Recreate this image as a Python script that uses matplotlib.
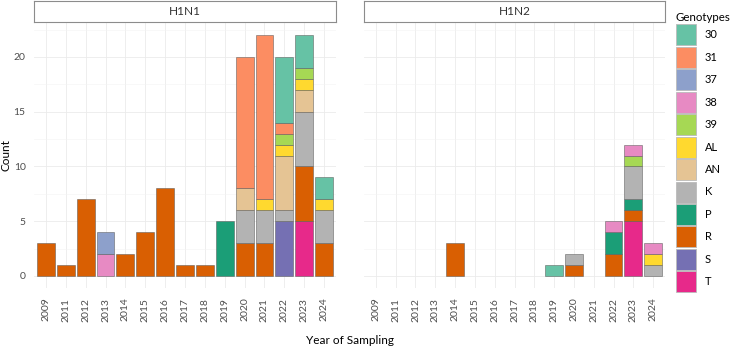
import matplotlib
matplotlib.use("Agg")
import matplotlib.pyplot as plt
from matplotlib.patches import Patch
import numpy as np

plt.rcParams['font.family'] = ['Lato', 'DejaVu Sans']

years = ['2009', '2011', '2012', '2013', '2014', '2015', '2016', '2017',
         '2018', '2019', '2020', '2021', '2022', '2023', '2024']
genotypes = ['30', '31', '37', '38', '39', 'AL', 'AN', 'K', 'P', 'R', 'S', 'T']
colors = ['#66C2A5', '#FC8D62', '#8DA0CB', '#E78AC3', '#A6D854', '#FFD92F',
          '#E5C494', '#B3B3B3', '#1B9E77', '#D95F02', '#7570B3', '#E7298A']

# counts per genotype, one value per year (order of `years`)
h1n1 = {
    '30': [0, 0, 0, 0, 0, 0, 0, 0, 0, 0, 0, 0, 6, 3, 2],
    '31': [0, 0, 0, 0, 0, 0, 0, 0, 0, 0, 12, 15, 1, 0, 0],
    '37': [0, 0, 0, 2, 0, 0, 0, 0, 0, 0, 0, 0, 0, 0, 0],
    '38': [0, 0, 0, 2, 0, 0, 0, 0, 0, 0, 0, 0, 0, 0, 0],
    '39': [0, 0, 0, 0, 0, 0, 0, 0, 0, 0, 0, 0, 1, 1, 0],
    'AL': [0, 0, 0, 0, 0, 0, 0, 0, 0, 0, 0, 1, 1, 1, 1],
    'AN': [0, 0, 0, 0, 0, 0, 0, 0, 0, 0, 2, 0, 5, 2, 0],
    'K':  [0, 0, 0, 0, 0, 0, 0, 0, 0, 0, 3, 3, 1, 5, 3],
    'P':  [0, 0, 0, 0, 0, 0, 0, 0, 0, 5, 0, 0, 0, 0, 0],
    'R':  [3, 1, 7, 0, 2, 4, 8, 1, 1, 0, 3, 3, 0, 5, 3],
    'S':  [0, 0, 0, 0, 0, 0, 0, 0, 0, 0, 0, 0, 5, 0, 0],
    'T':  [0, 0, 0, 0, 0, 0, 0, 0, 0, 0, 0, 0, 0, 5, 0],
}
h1n2 = {
    '30': [0, 0, 0, 0, 0, 0, 0, 0, 0, 1, 0, 0, 0, 0, 0],
    '31': [0, 0, 0, 0, 0, 0, 0, 0, 0, 0, 0, 0, 0, 0, 0],
    '37': [0, 0, 0, 0, 0, 0, 0, 0, 0, 0, 0, 0, 0, 0, 0],
    '38': [0, 0, 0, 0, 0, 0, 0, 0, 0, 0, 0, 0, 1, 1, 1],
    '39': [0, 0, 0, 0, 0, 0, 0, 0, 0, 0, 0, 0, 0, 1, 0],
    'AL': [0, 0, 0, 0, 0, 0, 0, 0, 0, 0, 0, 0, 0, 0, 1],
    'AN': [0, 0, 0, 0, 0, 0, 0, 0, 0, 0, 0, 0, 0, 0, 0],
    'K':  [0, 0, 0, 0, 0, 0, 0, 0, 0, 0, 1, 0, 0, 3, 1],
    'P':  [0, 0, 0, 0, 0, 0, 0, 0, 0, 0, 0, 0, 2, 1, 0],
    'R':  [0, 0, 0, 0, 3, 0, 0, 0, 0, 0, 1, 0, 2, 1, 0],
    'S':  [0, 0, 0, 0, 0, 0, 0, 0, 0, 0, 0, 0, 0, 0, 0],
    'T':  [0, 0, 0, 0, 0, 0, 0, 0, 0, 0, 0, 0, 0, 5, 0],
}
panels = [('H1N1', h1n1), ('H1N2', h1n2)]

W, H = 735, 349
fig = plt.figure(figsize=(W / 100, H / 100), dpi=100)

def fx(px):
    return px / W

def fy(py):
    return 1 - py / H

panel_x = [(34, 336), (364, 665)]
ptop, pbot = 23, 288
strip_top, strip_bot = 1, 22

x = np.arange(len(years))
grey_txt = '#4D4D4D'
for i, ((name, data), (x0, x1)) in enumerate(zip(panels, panel_x)):
    ax = fig.add_axes([fx(x0), fy(pbot), fx(x1) - fx(x0), fy(ptop) - fy(pbot)])
    bottom = np.zeros(len(years))
    for g, c in zip(genotypes[::-1], colors[::-1]):
        vals = np.array(data[g], dtype=float)
        m = vals > 0
        ax.bar(x[m], vals[m], bottom=bottom[m], width=0.9, color=c,
               edgecolor=(0.35, 0.35, 0.35, 0.6), linewidth=0.6, zorder=3)
        bottom += vals
    ax.set_xlim(-0.6, len(years) - 1 + 0.6)
    ax.set_ylim(-1.1, 23.1)
    ax.set_yticks([0, 5, 10, 15, 20])
    ax.set_yticks([2.5, 7.5, 12.5, 17.5, 22.5], minor=True)
    ax.set_xticks(x)
    ax.set_xticklabels(years, rotation=90, fontsize=7.5, color=grey_txt)
    ax.tick_params(axis='both', length=0, which='both')
    ax.tick_params(axis='x', pad=7)
    ax.tick_params(axis='y', pad=6, labelsize=7.5, labelcolor=grey_txt)
    ax.grid(True, which='major', color='#EBEBEB', linewidth=0.6, zorder=0)
    ax.grid(True, which='minor', axis='y', color='#F3F3F3', linewidth=0.4, zorder=0)
    ax.set_axisbelow(True)
    for s in ax.spines.values():
        s.set_visible(False)
    if i > 0:
        ax.set_yticklabels([])
    # strip
    sax = fig.add_axes([fx(x0), fy(strip_bot), fx(x1) - fx(x0), fy(strip_top) - fy(strip_bot)])
    sax.set_xticks([]); sax.set_yticks([])
    for s in sax.spines.values():
        s.set_color('#8C8C8C'); s.set_linewidth(0.8)
    sax.text(0.5, 0.5, name, ha='center', va='center', fontsize=8.5, color='#333333',
             transform=sax.transAxes)

fig.text(fx(6.5), fy(155), 'Count', ha='center', va='center', rotation=90, fontsize=8.5)
fig.text(fx(350), fy(340), 'Year of Sampling', ha='center', va='center', fontsize=8.5)

handles = [Patch(facecolor=c, edgecolor='#BBBBBB', linewidth=0.6) for c in colors]
leg = fig.legend(handles, genotypes, loc='upper left', bbox_to_anchor=(fx(676), fy(12)),
                 frameon=False, fontsize=8, title='Genotypes', title_fontsize=8.3,
                 handlelength=1.8, handleheight=2.53, labelspacing=0.13,
                 handletextpad=0.8, borderaxespad=0, borderpad=0.0)
leg._legend_box.align = 'left'

fig.savefig('out.png', dpi=100)
